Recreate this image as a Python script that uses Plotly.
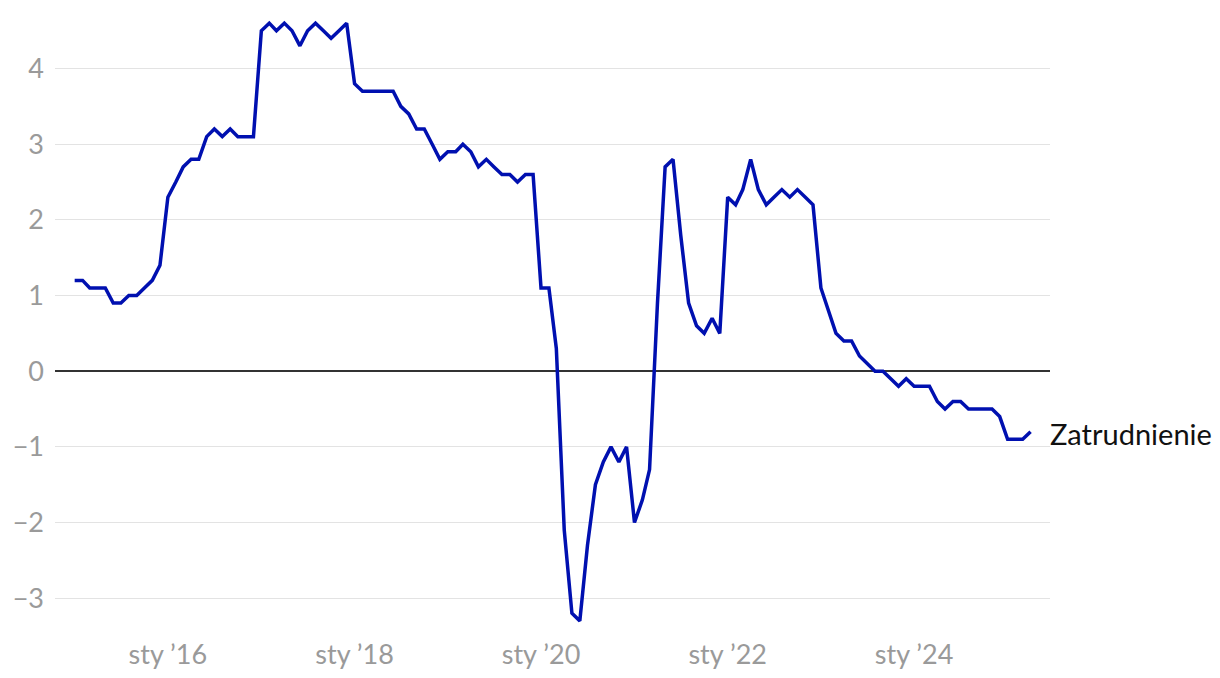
import plotly.graph_objects as go
import pandas as pd

start_month = "2015-01-01"
values = [
    1.2, 1.2, 1.1, 1.1, 1.1, 0.9, 0.9, 1.0, 1.0, 1.1, 1.2, 1.4,
    2.3, 2.5, 2.7, 2.8, 2.8, 3.1, 3.2, 3.1, 3.2, 3.1, 3.1, 3.1,
    4.5, 4.6, 4.5, 4.6, 4.5, 4.3, 4.5, 4.6, 4.5, 4.4, 4.5, 4.6,
    3.8, 3.7, 3.7, 3.7, 3.7, 3.7, 3.5, 3.4, 3.2, 3.2, 3.0, 2.8,
    2.9, 2.9, 3.0, 2.9, 2.7, 2.8, 2.7, 2.6, 2.6, 2.5, 2.6, 2.6,
    1.1, 1.1, 0.3, -2.1, -3.2, -3.3, -2.3, -1.5, -1.2, -1.0, -1.2, -1.0,
    -2.0, -1.7, -1.3, 0.9, 2.7, 2.8, 1.8, 0.9, 0.6, 0.5, 0.7, 0.5,
    2.3, 2.2, 2.4, 2.8, 2.4, 2.2, 2.3, 2.4, 2.3, 2.4, 2.3, 2.2,
    1.1, 0.8, 0.5, 0.4, 0.4, 0.2, 0.1, 0.0, 0.0, -0.1, -0.2, -0.1,
    -0.2, -0.2, -0.2, -0.4, -0.5, -0.4, -0.4, -0.5, -0.5, -0.5, -0.5, -0.6,
    -0.9, -0.9, -0.9, -0.8,
]
dates = pd.date_range(start_month, periods=len(values), freq="MS")

series_name = "Zatrudnienie"
x_tick_vals = ["2016-01-01", "2018-01-01", "2020-01-01", "2022-01-01", "2024-01-01"]
x_tick_text = ["sty \u201916", "sty \u201918", "sty \u201920", "sty \u201922", "sty \u201924"]
y_tick_vals = [-3, -2, -1, 0, 1, 2, 3, 4]

FONT = "Lato"
GRAY = "#9a9a9a"
LINE = "#0010b0"

fig = go.Figure()
fig.add_trace(go.Scatter(
    x=dates, y=values, mode="lines",
    line=dict(color=LINE, width=3.5),
    showlegend=False, hoverinfo="skip",
))

fig.add_annotation(
    x=dates[-1], y=values[-1], text=series_name,
    showarrow=False, xanchor="left", yanchor="middle",
    xshift=17, yshift=-2,
    font=dict(family=FONT, size=29, color="#111111"),
)

fig.update_layout(
    width=1220, height=678,
    margin=dict(l=47, r=178, t=0, b=50),
    paper_bgcolor="white", plot_bgcolor="white",
    font=dict(family=FONT, size=27, color=GRAY),
    xaxis=dict(
        range=["2014-10-16", "2025-06-16"],
        tickmode="array", tickvals=x_tick_vals, ticktext=x_tick_text,
        showgrid=False, zeroline=False, showline=False, ticks="",
        tickfont=dict(family=FONT, size=27, color=GRAY),
        automargin=False,
    ),
    yaxis=dict(
        range=[-3.5, 4.8],
        tickmode="array", tickvals=y_tick_vals,
        showgrid=True, gridcolor="#e3e3e3", gridwidth=1,
        zeroline=True, zerolinecolor="#333333", zerolinewidth=1.5,
        showline=False, ticks="",
        ticklabelstandoff=10,
        tickfont=dict(family=FONT, size=27, color=GRAY),
        automargin=False,
    ),
)

fig.write_html("out.html")
